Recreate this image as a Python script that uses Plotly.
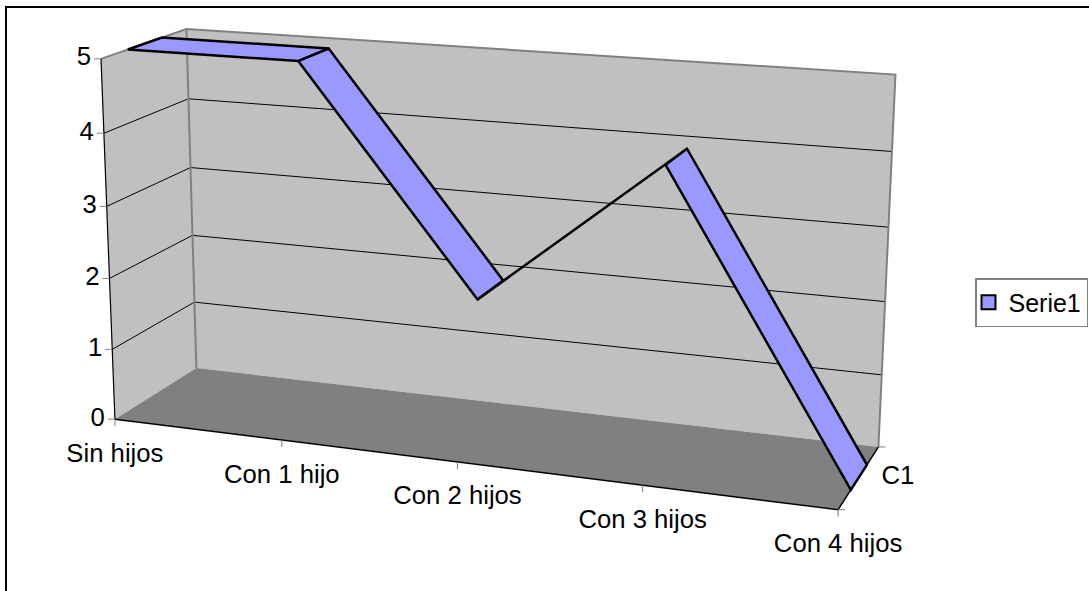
import numpy as np
import plotly.graph_objects as go

# ---- data
categories = ["Sin hijos", "Con 1 hijo", "Con 2 hijos", "Con 3 hijos", "Con 4 hijos"]
values = [5, 5, 2, 4, 0]
series_name = "Serie1"
depth_label = "C1"
value_ticks = [0, 1, 2, 3, 4, 5]

# ---- camera: a projective map of the box (x 0..1, depth 0..1, value 0..5) to the page,
# fitted to landmarks
W, H = 1089, 591
DEPTH_F, DEPTH_B = 0.3, 0.7
calib_box = [(0,0,0),(0,0,5),(0,1,0),(0,1,5),(1,1,0),(1,1,5),(1,0,0),
             (0,DEPTH_F,5),(0,DEPTH_B,5),(.25,DEPTH_F,5),(.25,DEPTH_B,5),(.5,DEPTH_F,2),(.5,DEPTH_B,2),
             (.75,DEPTH_F,4),(.75,DEPTH_B,4),(1,DEPTH_F,0),(1,DEPTH_B,0)]
calib_px = [(114.5,419),(101,59),(197,368),(187,28),(879,448),(895,73),(839,509),
            (127,49),(162,38),(299,62),(329,48),(477,299),(502,281),
            (666,166),(687,150),(851,489),(866,465)]
weights = np.ones(len(calib_px))
for _ in range(8):
    A, b = [], []
    for (X,Y,Z),(u,v),g in zip(calib_box, calib_px, weights):
        A.append([g*c for c in [X,Y,Z,1,0,0,0,0,-u*X,-u*Y,-u*Z]]); b.append(g*u)
        A.append([g*c for c in [0,0,0,0,X,Y,Z,1,-v*X,-v*Y,-v*Z]]); b.append(g*v)
    m = np.linalg.lstsq(np.array(A,float), np.array(b,float), rcond=None)[0]
    P = np.append(m, 1.0).reshape(3,4)
    weights = np.array([1.0/(P[2] @ np.array([*p,1.0])) for p in calib_box])

def proj(X, Y, Z):
    u, v, w = P @ np.array([X, Y, Z, 1.0])
    return float(u/w), float(v/w)

def poly(pts):
    q = [proj(*p) for p in pts]
    return [a for a,_ in q], [c for _,c in q]

zmax = max(value_ticks)
GREY, WALL, FLOOR, RIB = "#808080", "#C0C0C0", "#808080", "#9999FF"
fig = go.Figure()

def fill(pts, color, lc=None, lw=0):
    x, y = poly(pts + pts[:1])
    fig.add_trace(go.Scatter(x=x, y=y, mode="lines", fill="toself", fillcolor=color,
        line=dict(color=lc or color, width=lw), showlegend=False, hoverinfo="skip"))

def line(pts, color="#000000", lw=1, off=None):
    x, y = poly(pts)
    if off:
        x = [x[0], x[0]+off[0]]; y = [y[0], y[0]+off[1]]
    fig.add_trace(go.Scatter(x=x, y=y, mode="lines", line=dict(color=color, width=lw),
        showlegend=False, hoverinfo="skip"))

# walls and floor
fill([(0,0,0),(0,0,zmax),(0,1,zmax),(0,1,0)], WALL)
fill([(0,1,0),(0,1,zmax),(1,1,zmax),(1,1,0)], WALL)
fill([(0,0,0),(1,0,0),(1,1,0),(0,1,0)], FLOOR)

# gridlines
for t in value_ticks[1:-1]:
    line([(0,0,t),(0,1,t),(1,1,t)], "#000000", 1)

# wall edges
line([(0,0,zmax),(0,1,zmax),(1,1,zmax),(1,1,0)], GREY, 2)
line([(0,1,zmax),(0,1,0)], GREY, 2)

# axes
line([(0,0,0),(0,0,zmax)], "#000000", 1.2)
line([(0,0,0),(1,0,0),(1,1,0)], "#000000", 1.5)

# ticks
for t in value_ticks:
    line([(0,0,t),(0,0,t)], GREY, 1, off=(-7, 0))
n = len(categories) - 1
for i in range(n+1):
    line([(i/n,0,0),(i/n,0,0)], GREY, 1, off=(0, 7))
line([(1,0,0),(1,0,0)], GREY, 1, off=(7, 0))
line([(1,1,0),(1,1,0)], GREY, 1, off=(7, 0))

# ribbon
for i in range(n):
    a, c = i/n, (i+1)/n
    fill([(a,DEPTH_F,values[i]),(c,DEPTH_F,values[i+1]),(c,DEPTH_B,values[i+1]),(a,DEPTH_B,values[i])],
         RIB, "#000000", 2.5)

# tick labels
FONT = dict(family="Liberation Sans, Arial, sans-serif", size=25.7, color="#000000")
vx = [proj(0,0,t)[0]-10 for t in value_ticks]
vy = [proj(0,0,t)[1] for t in value_ticks]
fig.add_trace(go.Scatter(x=vx, y=vy, mode="text", text=[str(t) for t in value_ticks],
    textposition="middle left", textfont=FONT, showlegend=False, hoverinfo="skip", cliponaxis=False))
CAT_DY = 36
cx = [proj(i/n,0,0)[0] for i in range(n+1)]
cy = [proj(i/n,0,0)[1]+CAT_DY for i in range(n+1)]
fig.add_trace(go.Scatter(x=cx, y=cy, mode="text", text=categories, textposition="middle center",
    textfont=FONT, showlegend=False, hoverinfo="skip", cliponaxis=False))
dx_, dy_ = proj(1,0.5,0)
fig.add_trace(go.Scatter(x=[dx_+39], y=[dy_], mode="text", text=[depth_label], textposition="middle center",
    textfont=FONT, showlegend=False, hoverinfo="skip", cliponaxis=False))

# legend
fig.add_trace(go.Scatter(x=[None], y=[None], mode="markers", name=series_name,
    marker=dict(symbol="square", size=14, color=RIB, line=dict(color="#000000", width=2))))

fig.update_layout(
    width=W, height=H, margin=dict(l=0, r=0, t=0, b=0),
    paper_bgcolor="#FFFFFF", plot_bgcolor="#FFFFFF",
    xaxis=dict(range=[0, W], visible=False, fixedrange=True),
    yaxis=dict(range=[H, 0], visible=False, fixedrange=True),
    showlegend=True,
    legend=dict(x=975/W, y=1-278/H, xanchor="left", yanchor="top",
                font=dict(family=FONT["family"], size=25, color="#000000"),
                bgcolor="#FFFFFF", bordercolor=GREY, borderwidth=1.5, itemwidth=30, indentation=-8),
    shapes=[dict(type="rect", xref="x", yref="y", x0=6, y0=7, x1=W+20, y1=H+20,
                 line=dict(color="#000000", width=2), layer="below")],
)
fig.write_html("out.html", config=dict(displayModeBar=False),
               post_script="document.body.style.margin='0';document.body.style.overflow='hidden';")
